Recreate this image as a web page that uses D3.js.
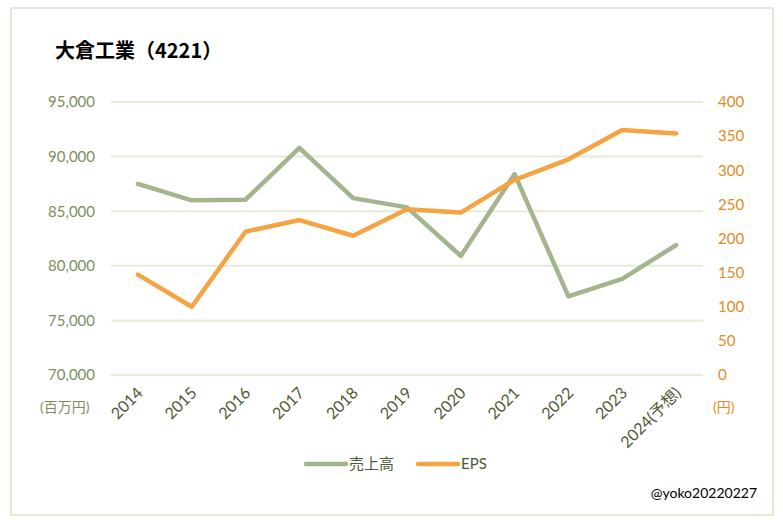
<!DOCTYPE html>
<html>
<head>
<meta charset="utf-8">
<script src="https://cdn.jsdelivr.net/npm/d3@7"></script>
<style>
  body { margin: 0; background: #fff; }
  text { font-family: Lato, "Noto Sans CJK JP", sans-serif; }
</style>
</head>
<body>
<div id="chart"></div>
<script>
// data
var years = ["2014", "2015", "2016", "2017", "2018", "2019", "2020", "2021", "2022", "2023", "2024(予想)"];
var sales = [87500, 86000, 86050, 90800, 86200, 85350, 80900, 88400, 77200, 78800, 81900];
var eps = [147, 100, 210, 227, 204, 243, 238, 286, 316, 359, 354];
var leftTicks = [70000, 75000, 80000, 85000, 90000, 95000];
var rightTicks = [0, 50, 100, 150, 200, 250, 300, 350, 400];

var W = 783, H = 523;
var margin = {top: 102, right: 80, bottom: 148, left: 111};
var width = 703 - margin.left,
    height = 375 - margin.top;

var green = "#A3B48F", orange = "#F4A443";

var svg = d3.select("#chart").append("svg")
    .attr("width", W)
    .attr("height", H);

// outer frame
svg.append("rect")
    .attr("x", 11).attr("y", 8)
    .attr("width", 762).attr("height", 507)
    .attr("fill", "#fff")
    .attr("stroke", "#E6E8D5")
    .attr("stroke-width", 2);

// title
svg.append("text")
    .attr("x", 55).attr("y", 58)
    .style("font-family", "'Noto Sans CJK JP'")
    .style("font-weight", "bold")
    .style("font-size", "20px")
    .attr("fill", "#000")
    .text("大倉工業（4221）");

var g = svg.append("g")
    .attr("transform", "translate(" + margin.left + "," + margin.top + ")");

var x = d3.scaleBand()
    .domain(years)
    .range([0, width]);

var yL = d3.scaleLinear()
    .domain([70000, 95000])
    .range([height, 0]);

var yR = d3.scaleLinear()
    .domain([0, 400])
    .range([height, 0]);

// gridlines
g.selectAll(".grid")
    .data(leftTicks)
    .enter().append("line")
    .attr("x1", 0).attr("x2", width)
    .attr("y1", d => yL(d)).attr("y2", d => yL(d))
    .attr("stroke", "#E8EAD9")
    .attr("stroke-width", 2);

// left axis
var axL = g.append("g")
    .call(d3.axisLeft(yL).tickValues(leftTicks).tickSize(0).tickPadding(16).tickFormat(d3.format(",")));
axL.select(".domain").remove();
axL.selectAll("text")
    .style("font-size", "15px")
    .attr("fill", "#7C8E5E");

// right axis
var axR = g.append("g")
    .attr("transform", "translate(" + width + ",0)")
    .call(d3.axisRight(yR).tickValues(rightTicks).tickSize(0).tickPadding(15));
axR.select(".domain").remove();
axR.selectAll("text")
    .style("font-size", "15px")
    .attr("fill", "#E38B22");

// x axis labels, rotated
g.selectAll(".xlab")
    .data(years)
    .enter().append("text")
    .attr("transform", d => "translate(" + (x(d) + x.bandwidth() / 2 + 6) + "," + (height + 19) + ") rotate(-45)")
    .attr("text-anchor", "end")
    .style("font-size", "16px")
    .attr("fill", "#4E5A33")
    .text(d => d);

// unit labels
svg.append("text")
    .attr("x", 40).attr("y", 412)
    .style("font-size", "14px")
    .attr("fill", "#7C8E5E")
    .text("(百万円)");
svg.append("text")
    .attr("x", 713).attr("y", 412)
    .style("font-size", "14px")
    .attr("fill", "#E38B22")
    .text("(円)");

// lines
var lineL = d3.line()
    .x((d, i) => x(years[i]) + x.bandwidth() / 2)
    .y(d => yL(d));
var lineR = d3.line()
    .x((d, i) => x(years[i]) + x.bandwidth() / 2)
    .y(d => yR(d));

g.append("path")
    .attr("d", lineL(sales))
    .attr("fill", "none")
    .attr("stroke", green)
    .attr("stroke-width", 4.5)
    .attr("stroke-linecap", "round")
    .attr("stroke-linejoin", "round");

g.append("path")
    .attr("d", lineR(eps))
    .attr("fill", "none")
    .attr("stroke", orange)
    .attr("stroke-width", 4.5)
    .attr("stroke-linecap", "round")
    .attr("stroke-linejoin", "round");

// legend
var legendItems = [
    {name: "売上高", color: green, x: 306},
    {name: "EPS", color: orange, x: 418}
];
var legend = svg.selectAll(".legend")
    .data(legendItems)
    .enter().append("g")
    .attr("transform", d => "translate(" + d.x + ",464)");
legend.append("line")
    .attr("x1", 0).attr("x2", 40)
    .attr("stroke", d => d.color)
    .attr("stroke-width", 4.5)
    .attr("stroke-linecap", "round");
legend.append("text")
    .attr("x", 43).attr("y", 5)
    .style("font-size", "15px")
    .attr("fill", "#4E5A33")
    .text(d => d.name);

// watermark
svg.append("text")
    .attr("x", 757).attr("y", 498)
    .attr("text-anchor", "end")
    .style("font-size", "14px")
    .attr("fill", "#000")
    .text("@yoko20220227");
</script>
</body>
</html>
